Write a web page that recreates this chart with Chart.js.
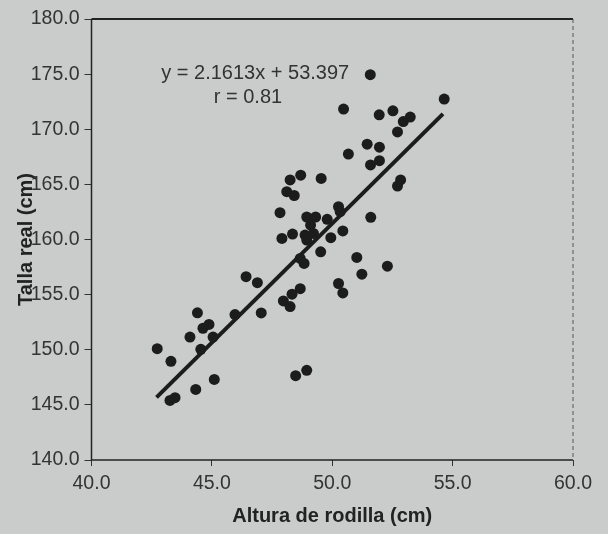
<!DOCTYPE html>
<html>
<head>
<meta charset="utf-8">
<script src="https://cdn.jsdelivr.net/npm/chart.js@4.4.1/dist/chart.umd.min.js"></script>
<style>
  html, body { margin: 0; padding: 0; background: #c9cccb; }
  canvas { display: block; }
</style>
</head>
<body>
<canvas id="chart" width="608" height="534"></canvas>
<script>
// Altura de rodilla (cm) vs talla real (cm)
const alturaRodilla = [
  42.73, 43.30, 43.26, 43.47, 44.33, 45.10, 44.09, 44.40, 44.63, 44.88,
  44.54, 45.05, 45.96, 46.42, 46.89, 47.05, 47.97, 48.25, 48.33, 48.67,
  48.48, 48.94, 47.91, 48.35, 48.87, 48.94, 49.22, 48.83, 48.67, 49.52,
  48.25, 48.69, 48.11, 48.42, 47.83, 48.94, 49.31, 49.10, 49.79, 50.26,
  50.33, 51.60, 50.44, 49.94, 49.54, 51.02, 51.23, 52.29, 50.26, 50.44,
  50.47, 51.58, 54.65, 51.95, 52.52, 52.95, 53.24, 52.71, 51.45, 51.96,
  50.67, 51.59, 51.96, 52.84, 52.71
];
const tallaReal = [
  150.10, 148.95, 145.40, 145.65, 146.40, 147.31, 151.15, 153.35, 151.95, 152.30,
  150.04, 151.15, 153.19, 156.63, 156.08, 153.34, 154.43, 153.92, 155.04, 155.54,
  147.65, 148.13, 160.10, 160.49, 160.40, 159.95, 160.55, 157.83, 158.28, 158.88,
  165.40, 165.83, 164.34, 163.99, 162.43, 162.04, 162.04, 161.31, 161.83, 162.97,
  162.52, 162.01, 160.78, 160.17, 165.54, 158.37, 156.85, 157.58, 156.01, 155.15,
  171.83, 174.95, 172.74, 171.31, 171.67, 170.70, 171.10, 169.76, 168.65, 168.37,
  167.75, 166.76, 167.15, 165.40, 164.85
];
// extremos de la recta y = 2.1613x + 53.397
const rectaX = [42.7, 54.6];
const rectaY = [145.68, 171.40];
const ecuacion = ['y = 2.1613x + 53.397', 'r = 0.81'];

const FONT = '"Liberation Sans", Arial, sans-serif';
const INK = '#1c1c1c';

const puntos = alturaRodilla.map((x, i) => ({ x: x, y: tallaReal[i] }));
const recta = rectaX.map((x, i) => ({ x: x, y: rectaY[i] }));

// fondo gris y marco del área de trazado
const marcoPlugin = {
  id: 'marco',
  beforeDraw(chart) {
    const ctx = chart.ctx;
    ctx.save();
    ctx.fillStyle = '#c9cccb';
    ctx.fillRect(0, 0, chart.width, chart.height);
    ctx.restore();
  },
  afterDatasetsDraw(chart) {
    const { ctx, chartArea: a } = chart;
    ctx.save();
    ctx.strokeStyle = '#222';
    ctx.lineWidth = 2;
    ctx.beginPath();
    ctx.moveTo(a.left, a.top);
    ctx.lineTo(a.right, a.top);
    ctx.stroke();
    ctx.lineWidth = 1.5;
    ctx.beginPath();
    ctx.moveTo(a.left, a.top);
    ctx.lineTo(a.left, a.bottom);
    ctx.lineTo(a.right, a.bottom);
    ctx.stroke();
    ctx.lineWidth = 1;
    ctx.strokeStyle = '#555';
    ctx.setLineDash([4, 3]);
    ctx.beginPath();
    ctx.moveTo(a.right, a.top);
    ctx.lineTo(a.right, a.bottom);
    ctx.stroke();
    ctx.restore();

    // texto de la ecuación
    const sx = chart.scales.x, sy = chart.scales.y;
    ctx.save();
    ctx.fillStyle = '#333';
    ctx.font = '20px ' + FONT;
    ctx.textAlign = 'center';
    ctx.textBaseline = 'middle';
    ctx.fillText(ecuacion[0], sx.getPixelForValue(46.8), sy.getPixelForValue(175.1));
    ctx.fillText(ecuacion[1], sx.getPixelForValue(46.5), sy.getPixelForValue(172.85));
    ctx.restore();
  }
};

new Chart(document.getElementById('chart').getContext('2d'), {
  type: 'scatter',
  data: {
    datasets: [
      {
        type: 'line',
        data: recta,
        borderColor: INK,
        borderWidth: 4,
        pointRadius: 0,
        fill: false,
        order: 2
      },
      {
        data: puntos,
        backgroundColor: INK,
        borderWidth: 0,
        pointRadius: 5.5,
        order: 1
      }
    ]
  },
  options: {
    responsive: false,
    animation: false,
    devicePixelRatio: 1,
    layout: { padding: { top: 19, right: 35, left: 0, bottom: 0 } },
    plugins: {
      legend: { display: false },
      tooltip: { enabled: false }
    },
    scales: {
      x: {
        type: 'linear',
        min: 40, max: 60,
        afterFit(scale) { scale.height = 74; },
        ticks: {
          stepSize: 5,
          padding: 6,
          color: '#333',
          font: { family: FONT, size: 19.5 },
          callback: v => v.toFixed(1)
        },
        grid: { drawOnChartArea: false, drawTicks: true, tickLength: 6, color: '#333' },
        border: { display: false },
        title: {
          display: true,
          text: 'Altura de rodilla (cm)',
          color: '#222',
          font: { family: FONT, size: 20, weight: 'bold' },
          padding: { top: 0, bottom: 6 }
        }
      },
      y: {
        type: 'linear',
        min: 140, max: 180,
        afterFit(scale) { scale.width = 91.5; },
        ticks: {
          stepSize: 5,
          padding: 5,
          color: '#333',
          font: { family: FONT, size: 19.5 },
          callback: v => v.toFixed(1)
        },
        grid: { drawOnChartArea: false, drawTicks: true, tickLength: 7, color: '#333' },
        border: { display: false },
        title: {
          display: true,
          text: 'Talla real (cm)',
          color: '#222',
          font: { family: FONT, size: 20, weight: 'bold' },
          padding: { top: 14, bottom: 0 }
        }
      }
    }
  },
  plugins: [marcoPlugin]
});
</script>
</body>
</html>
